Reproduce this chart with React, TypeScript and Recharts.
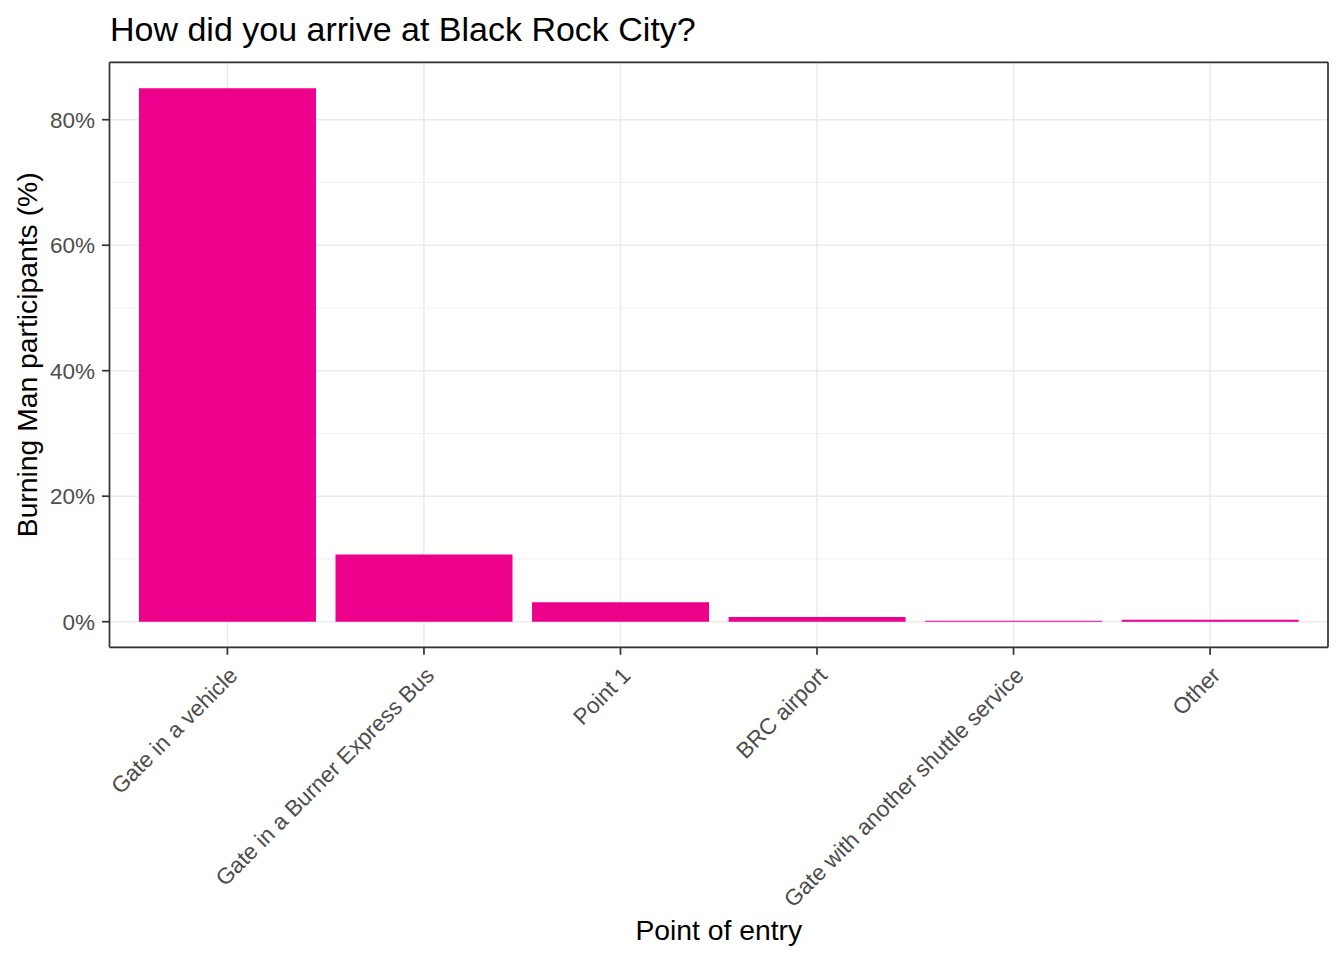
// Arrival survey — share of participants by point of entry (Recharts BarChart)
// ggplot2 theme_bw look: grey92 grid, grey20 panel border, magenta bars

import { BarChart, Bar, XAxis, YAxis, CartesianGrid } from 'recharts';

const categories = [
  'Gate in a vehicle',
  'Gate in a Burner Express Bus',
  'Point 1',
  'BRC airport',
  'Gate with another shuttle service',
  'Other',
];
const shares = [85.0, 10.7, 3.1, 0.75, 0.15, 0.3];
const yTicks = [0, 20, 40, 60, 80];
const yMinorTicks = [10, 30, 50, 70];
const yDomain = [-4.08, 89.15];

const data = categories.map((cat, i) => ({ cat, share: shares[i] }));

const FONT = '"Liberation Sans", Arial, sans-serif';
const BORDER = '#333333';
const GRID = '#EBEBEB';

function AngledTick({ x, y, payload }: any) {
  const ax = x + 11.5;
  const ay = y + 20;
  return (
    <text
      x={ax}
      y={ay}
      textAnchor="end"
      transform={`rotate(-45, ${ax}, ${ay})`}
      fontSize={22.5}
      fontFamily={FONT}
      fill="#4D4D4D"
    >
      {payload.value}
    </text>
  );
}

export default function App() {
  return (
    <div style={{ position: 'absolute', left: 0, top: 0, width: 1344, height: 960, background: '#fff' }}>
      <div
        style={{
          position: 'absolute',
          left: 110,
          top: 12,
          fontFamily: FONT,
          fontSize: 34,
          lineHeight: 1,
          color: '#000',
          whiteSpace: 'nowrap',
        }}
      >
        How did you arrive at Black Rock City?
      </div>
      <BarChart
        width={1344}
        height={960}
        data={data}
        margin={{ top: 61.3, right: 15, left: 0, bottom: 0 }}
        barCategoryGap="5%"
        style={{ fontFamily: FONT }}
      >
        {/* minor horizontal grid, major grid on top */}
        <CartesianGrid yAxisId="minor" vertical={false} stroke={GRID} strokeWidth={0.8} />
        <CartesianGrid stroke={GRID} strokeWidth={1.5} />
        <XAxis
          dataKey="cat"
          type="category"
          padding={{ left: 19.65, right: 19.65 }}
          height={312.7}
          interval={0}
          tick={<AngledTick />}
          tickSize={7.5}
          tickMargin={2}
          tickLine={{ stroke: BORDER, strokeWidth: 1.7 }}
          axisLine={{ stroke: BORDER, strokeWidth: 1.7 }}
          label={{
            value: 'Point of entry',
            position: 'insideBottom',
            offset: 20,
            fontSize: 28.3,
            fill: '#000',
            fontFamily: FONT,
          }}
        />
        <XAxis
          xAxisId="top"
          dataKey="cat"
          orientation="top"
          padding={{ left: 19.65, right: 19.65 }}
          height={1}
          tick={false}
          tickLine={false}
          axisLine={{ stroke: BORDER, strokeWidth: 1.7 }}
        />
        <YAxis
          width={109.5}
          domain={yDomain}
          allowDataOverflow
          ticks={yTicks}
          tickFormatter={(v: number) => `${v}%`}
          tick={{ fontSize: 22.5, fill: '#4D4D4D', fontFamily: FONT }}
          tickSize={7.5}
          tickMargin={7}
          tickLine={{ stroke: BORDER, strokeWidth: 1.7 }}
          axisLine={{ stroke: BORDER, strokeWidth: 1.7 }}
          label={{
            value: 'Burning Man participants (%)',
            angle: -90,
            position: 'insideLeft',
            offset: 27,
            fontSize: 28.3,
            fill: '#000',
            fontFamily: FONT,
            style: { textAnchor: 'middle' },
          }}
        />
        <YAxis yAxisId="minor" hide domain={yDomain} allowDataOverflow ticks={yMinorTicks} />
        <YAxis
          yAxisId="right"
          orientation="right"
          width={1}
          domain={yDomain}
          allowDataOverflow
          tick={false}
          tickLine={false}
          axisLine={{ stroke: BORDER, strokeWidth: 1.7 }}
        />
        <Bar dataKey="share" fill="#EC008C" isAnimationActive={false} />
      </BarChart>
    </div>
  );
}
